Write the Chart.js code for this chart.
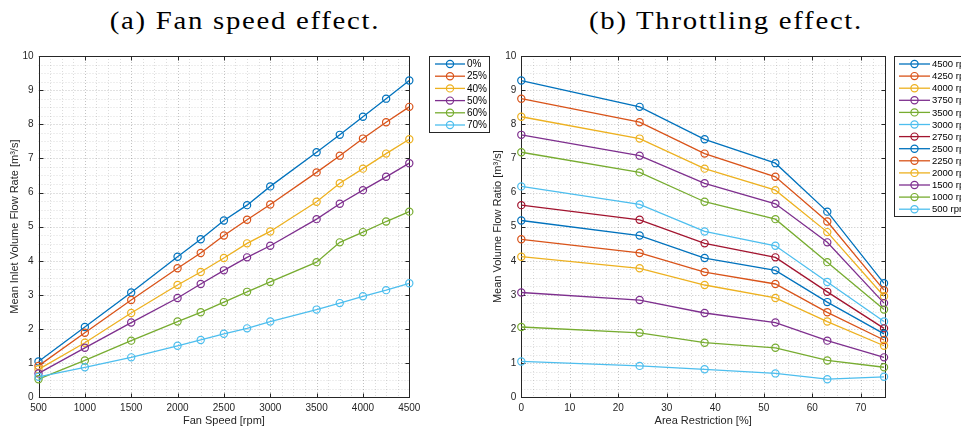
<!DOCTYPE html>
<html>
<head>
<meta charset="utf-8">
<script src="https://cdn.jsdelivr.net/npm/chart.js@4/dist/chart.umd.min.js"></script>
<style>
  html, body { margin:0; padding:0; background:#fff; }
  body { width:961px; height:430px; position:relative; overflow:hidden; }
  canvas { position:absolute; top:0; }
  #cA { left:0; }
  #cB { left:480px; }
  .ttl { position:absolute; top:9px; width:400px; text-align:center; font-family:"Liberation Serif","DejaVu Serif",serif; font-size:25px; line-height:24px; letter-spacing:1.5px; color:#000; white-space:nowrap; transform:scaleX(1.15); transform-origin:50% 50%; }
</style>
</head>
<body>
<div class="ttl" id="tA" style="left:45px;">(a) Fan speed effect.</div>
<div class="ttl" id="tB" style="left:526px;">(b) Throttling effect.</div>
<canvas id="cA" width="500" height="430"></canvas>
<canvas id="cB" width="481" height="430"></canvas>
<script>
// ---------------- DATA ----------------
const fanSpeeds = [500, 1000, 1500, 2000, 2250, 2500, 2750, 3000, 3500, 3750, 4000, 4250, 4500];
const restrictionLabels = ['0%', '25%', '40%', '50%', '60%', '70%'];
const areaRestriction = [0, 24.4, 37.8, 52.4, 63.1, 74.8];

const flow0  = [1.05, 2.06, 3.07, 4.12, 4.63, 5.18, 5.63, 6.18, 7.18, 7.69, 8.22, 8.75, 9.28];
const flow25 = [0.92, 1.89, 2.85, 3.78, 4.23, 4.74, 5.20, 5.65, 6.59, 7.08, 7.58, 8.06, 8.51];
const flow40 = [0.82, 1.60, 2.47, 3.29, 3.67, 4.08, 4.51, 4.86, 5.73, 6.27, 6.70, 7.14, 7.56];
const flow50 = [0.70, 1.45, 2.19, 2.91, 3.32, 3.72, 4.10, 4.44, 5.22, 5.67, 6.07, 6.46, 6.86];
const flow60 = [0.53, 1.08, 1.66, 2.22, 2.49, 2.79, 3.09, 3.38, 3.96, 4.54, 4.84, 5.15, 5.44];
const flow70 = [0.60, 0.88, 1.17, 1.51, 1.68, 1.86, 2.02, 2.22, 2.57, 2.76, 2.96, 3.14, 3.34];

const throttleSpeeds = [4500, 4250, 4000, 3750, 3500, 3000, 2750, 2500, 2250, 2000, 1500, 1000, 500];

const yTicksA = [0,1,2,3,4,5,6,7,8,9,10];
const xTicksA = [500,1000,1500,2000,2500,3000,3500,4000,4500];
const xTicksB = [0,10,20,30,40,50,60,70];

// ---------------- STYLE ----------------
const palette = ['#0072BD', '#D95319', '#EDB120', '#7E2F8E', '#77AC30', '#4DBEEE', '#A2142F'];
const AX = '#262626';
const FONT = '"Liberation Sans", Arial, Helvetica, sans-serif';

const flowsByRestriction = [flow0, flow25, flow40, flow50, flow60, flow70];

function lineDS(label, data, color, i, n) {
  return {
    label, data,
    borderColor: color, backgroundColor: color,
    borderWidth: 1.3,
    pointRadius: 3.6, pointHoverRadius: 3.6,
    pointBorderWidth: 1.2,
    pointBackgroundColor: 'rgba(0,0,0,0)',
    pointBorderColor: color,
    fill: false, tension: 0, clip: false,
    order: n - i
  };
}

const dsA = flowsByRestriction.map((arr, i) =>
  lineDS(restrictionLabels[i], fanSpeeds.map((s, k) => ({x: s, y: arr[k]})), palette[i % 7], i, 6));

const dsB = throttleSpeeds.map((s, i) => {
  const k = fanSpeeds.indexOf(s);
  return lineDS(s + ' rpm', areaRestriction.map((a, j) => ({x: a, y: flowsByRestriction[j][k]})), palette[i % 7], i, throttleSpeeds.length);
});

// frame plugin: dotted major/minor grid, box, inward ticks
const framePlugin = {
  id: 'frame',
  beforeDatasetsDraw(chart, args, o) {
    const {ctx, chartArea: a, scales: {x, y}} = chart;
    ctx.save();
    ctx.lineWidth = 1;
    ctx.setLineDash([1, 2]);
    const eps = 1e-6;
    for (let v = x.min; v <= x.max + eps; v += o.xMinor) {
      const isMaj = o.xMajor.some(t => Math.abs(t - v) < eps);
      const px = Math.round(x.getPixelForValue(v)) + 0.5;
      ctx.strokeStyle = isMaj ? 'rgba(38,38,38,0.28)' : 'rgba(38,38,38,0.16)';
      ctx.beginPath(); ctx.moveTo(px, a.top); ctx.lineTo(px, a.bottom); ctx.stroke();
    }
    for (let v = y.min; v <= y.max + eps; v += o.yMinor) {
      const isMaj = o.yMajor.some(t => Math.abs(t - v) < eps);
      const py = Math.round(y.getPixelForValue(v)) + 0.5;
      ctx.strokeStyle = isMaj ? 'rgba(38,38,38,0.28)' : 'rgba(38,38,38,0.16)';
      ctx.beginPath(); ctx.moveTo(a.left, py); ctx.lineTo(a.right, py); ctx.stroke();
    }
    ctx.setLineDash([]);
    ctx.strokeStyle = AX;
    ctx.lineWidth = 1;
    const L = Math.round(a.left) + 0.5, R = Math.round(a.right) + 0.5, T = Math.round(a.top) + 0.5, B = Math.round(a.bottom) + 0.5;
    ctx.strokeRect(L, T, R - L, B - T);
    const tl = 4;
    ctx.beginPath();
    o.xMajor.forEach(v => {
      const px = Math.round(x.getPixelForValue(v)) + 0.5;
      ctx.moveTo(px, B); ctx.lineTo(px, B - tl);
      ctx.moveTo(px, T); ctx.lineTo(px, T + tl);
    });
    o.yMajor.forEach(v => {
      const py = Math.round(y.getPixelForValue(v)) + 0.5;
      ctx.moveTo(L, py); ctx.lineTo(L + tl, py);
      ctx.moveTo(R, py); ctx.lineTo(R - tl, py);
    });
    ctx.stroke();
    ctx.restore();
  }
};

// boxed legend plugin (MATLAB style)
const boxLegend = {
  id: 'boxLegend',
  afterDraw(chart, args, o) {
    const {ctx} = chart;
    const sets = chart.data.datasets;
    ctx.save();
    ctx.fillStyle = '#fff';
    ctx.fillRect(o.x, o.y, o.w, o.h);
    ctx.strokeStyle = AX; ctx.lineWidth = 1;
    ctx.strokeRect(o.x + 0.5, o.y + 0.5, o.w, o.h);
    ctx.font = o.fs + 'px ' + FONT;
    ctx.textBaseline = 'middle';
    ctx.textAlign = 'left';
    sets.forEach((d, i) => {
      const yy = o.y0 + i * o.dy;
      ctx.strokeStyle = d.borderColor;
      ctx.lineWidth = 1.3;
      ctx.beginPath(); ctx.moveTo(o.l0, yy); ctx.lineTo(o.l1, yy); ctx.stroke();
      ctx.lineWidth = 1.2;
      ctx.beginPath(); ctx.arc((o.l0 + o.l1) / 2, yy, 3.6, 0, Math.PI * 2); ctx.stroke();
      ctx.fillStyle = '#000';
      ctx.fillText(d.label, o.tx, yy + 0.5);
    });
    ctx.restore();
  }
};

function makeOptions(cfg) {
  return {
    responsive: false,
    animation: false,
    events: [],
    layout: { padding: { left: 0, top: 56, right: cfg.padRight, bottom: 0 } },
    plugins: {
      legend: { display: false },
      tooltip: { enabled: false },
      title: { display: false },
      frame: cfg.frame,
      boxLegend: cfg.legend
    },
    scales: {
      x: {
        type: 'linear', min: cfg.xMin, max: cfg.xMax,
        afterBuildTicks: s => { s.ticks = cfg.frame.xMajor.map(v => ({value: v})); },
        afterFit: s => { s.height = 32.7; },
        grid: { display: false, drawTicks: false },
        border: { display: false },
        ticks: { color: AX, font: { family: FONT, size: 10 }, padding: 5, maxRotation: 0, autoSkip: false, callback: v => String(v) },
        title: { display: true, text: cfg.xTitle, color: AX, font: { family: FONT, size: 11 }, padding: { top: 0, bottom: 2 } }
      },
      y: {
        type: 'linear', min: 0, max: 10,
        afterBuildTicks: s => { s.ticks = cfg.frame.yMajor.map(v => ({value: v})); },
        afterFit: s => { s.width = cfg.yWidth; },
        grid: { display: false, drawTicks: false },
        border: { display: false },
        ticks: { color: AX, font: { family: FONT, size: 10 }, padding: 5, autoSkip: false, callback: v => String(v) },
        title: { display: true, text: cfg.yTitle, color: AX, font: { family: FONT, size: 11 }, padding: { top: cfg.yTitlePad, bottom: 0 } }
      }
    }
  };
}

new Chart(document.getElementById('cA'), {
  type: 'line',
  data: { datasets: dsA },
  plugins: [framePlugin, boxLegend],
  options: makeOptions({
    padRight: 500 - 409.3, xMin: 500, xMax: 4500, yWidth: 38.5, yTitlePad: 8.5,
    xTitle: 'Fan Speed [rpm]', yTitle: 'Mean Inlet Volume Flow Rate [m³/s]',
    frame: { xMajor: xTicksA, yMajor: yTicksA, xMinor: 125, yMinor: 0.25 },
    legend: { x: 429, y: 56, w: 60, h: 76, y0: 64, dy: 12.2, l0: 435, l1: 465, tx: 467, fs: 10 }
  })
});

new Chart(document.getElementById('cB'), {
  type: 'line',
  data: { datasets: dsB },
  plugins: [framePlugin, boxLegend],
  options: makeOptions({
    padRight: 481 - 405, xMin: 0, xMax: 75, yWidth: 41.3, yTitlePad: 11.4,
    xTitle: 'Area Restriction [%]', yTitle: 'Mean Volume Flow Ratio [m³/s]',
    frame: { xMajor: xTicksB, yMajor: yTicksA, xMinor: 2.5, yMinor: 0.25 },
    legend: { x: 414, y: 56, w: 90, h: 160, y0: 64, dy: 12.1, l0: 419, l1: 450, tx: 452, fs: 9.5 }
  })
});
</script>
</body>
</html>
